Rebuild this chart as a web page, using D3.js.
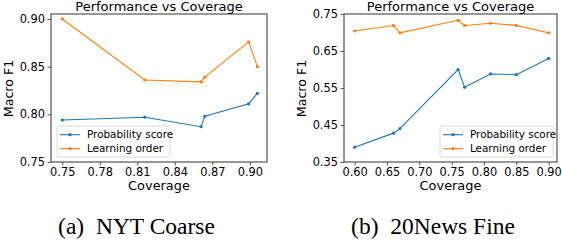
<!DOCTYPE html>
<html>
<head>
<meta charset="utf-8">
<script src="https://cdn.jsdelivr.net/npm/d3@7"></script>
<style>
  body { margin: 0; background: #fff; }
  svg text { font-family: "DejaVu Sans", sans-serif; fill: #000; }
  svg text.caption { font-family: "Liberation Serif", "Times New Roman", serif; }
</style>
</head>
<body>
<script>
// series names and captions
var seriesNames = ["Probability score", "Learning order"];
var seriesColors = ["#1f77b4", "#ff7f0e"];
var captions = ["(a)\u2002NYT Coarse", "(b)\u200220News Fine"];

// NYT Coarse
var nytCoverage = [0.750, 0.816, 0.861, 0.864, 0.899, 0.906];
var nytProb = [0.794, 0.797, 0.787, 0.798, 0.811, 0.822];
var nytLearn = [0.900, 0.836, 0.834, 0.839, 0.876, 0.850];
var nytXTicks = [0.75, 0.78, 0.81, 0.84, 0.87, 0.90];
var nytYTicks = [0.75, 0.80, 0.85, 0.90];

// 20News Fine
var newsCoverage = [0.60, 0.66, 0.67, 0.76, 0.77, 0.81, 0.85, 0.90];
var newsProb = [0.390, 0.428, 0.440, 0.600, 0.552, 0.588, 0.586, 0.630];
var newsLearn = [0.704, 0.719, 0.699, 0.733, 0.719, 0.725, 0.719, 0.699];
var newsXTicks = [0.60, 0.65, 0.70, 0.75, 0.80, 0.85, 0.90];
var newsYTicks = [0.35, 0.45, 0.55, 0.65, 0.75];

var svg = d3.select("body").append("svg")
    .attr("width", 562)
    .attr("height", 246);

function drawPanel(opt) {
  var x = d3.scaleLinear().domain(opt.xDomain).range([opt.left, opt.right]);
  var y = d3.scaleLinear().domain(opt.yDomain).range([opt.bottom, opt.top]);
  var g = svg.append("g");

  var xAxis = g.append("g")
      .attr("transform", "translate(0," + opt.bottom + ")")
      .call(d3.axisBottom(x).tickValues(opt.xTicks).tickFormat(d3.format(".2f")).tickSize(3.5).tickPadding(2.5));
  var yAxis = g.append("g")
      .attr("transform", "translate(" + opt.left + ",0)")
      .call(d3.axisLeft(y).tickValues(opt.yTicks).tickFormat(d3.format(".2f")).tickSize(3.5).tickPadding(2.5));
  [xAxis, yAxis].forEach(function(a) {
    a.select(".domain").remove();
    a.selectAll(".tick line").attr("stroke", "#333").attr("stroke-width", 0.8);
    a.selectAll(".tick text").style("font-size", "11.4px").style("font-family", "DejaVu Sans");
  });

  // lines
  opt.series.forEach(function(vals, i) {
    var pts = opt.xs.map(function(d, j) { return [d, vals[j]]; });
    g.append("path")
        .attr("d", d3.line().x(function(d) { return x(d[0]); }).y(function(d) { return y(d[1]); })(pts))
        .attr("fill", "none")
        .attr("stroke", seriesColors[i])
        .attr("stroke-width", 1.1);
    g.selectAll(null).data(pts).enter().append("circle")
        .attr("cx", function(d) { return x(d[0]); })
        .attr("cy", function(d) { return y(d[1]); })
        .attr("r", 1.6)
        .attr("fill", seriesColors[i]);
  });

  // frame
  g.append("rect")
      .attr("x", opt.left).attr("y", opt.top)
      .attr("width", opt.right - opt.left).attr("height", opt.bottom - opt.top)
      .attr("fill", "none").attr("stroke", "#333").attr("stroke-width", 1);

  g.append("text")
      .attr("x", (opt.left + opt.right) / 2).attr("y", 11)
      .attr("text-anchor", "middle").style("font-size", "13px")
      .text("Performance vs Coverage");
  g.append("text")
      .attr("x", (opt.left + opt.right) / 2).attr("y", 190)
      .attr("text-anchor", "middle").style("font-size", "12.9px")
      .text("Coverage");
  g.append("text")
      .attr("transform", "translate(" + (opt.left - 38) + "," + ((opt.top + opt.bottom) / 2 + 0.5) + ") rotate(-90)")
      .attr("text-anchor", "middle").style("font-size", "12.6px")
      .text("Macro F1");

  // legend
  var lg = g.append("g").attr("transform", "translate(" + opt.legendX + ",126)");
  lg.append("rect")
      .attr("width", 113).attr("height", 31).attr("rx", 2)
      .attr("fill", "#fff").attr("fill-opacity", 0.8)
      .attr("stroke", "#d0d0d0").attr("stroke-width", 0.8);
  seriesNames.forEach(function(name, i) {
    var yy = 8.7 + i * 14;
    lg.append("line")
        .attr("x1", 3).attr("x2", 23).attr("y1", yy).attr("y2", yy)
        .attr("stroke", seriesColors[i]).attr("stroke-width", 1.1);
    lg.append("circle").attr("cx", 13).attr("cy", yy).attr("r", 1.6).attr("fill", seriesColors[i]);
    lg.append("text")
        .attr("x", 30).attr("y", yy + 3.7)
        .style("font-size", "10.4px")
        .text(name);
  });

  svg.append("text")
      .attr("class", "caption")
      .attr("x", opt.captionX).attr("y", 234)
      .attr("text-anchor", "middle").style("font-size", "23.5px")
      .text(opt.caption);
}

drawPanel({
  left: 51, right: 267, top: 14, bottom: 162,
  xDomain: [0.7410, 0.9137], yDomain: [0.75, 0.9052],
  xTicks: nytXTicks, yTicks: nytYTicks,
  xs: nytCoverage, series: [nytProb, nytLearn],
  legendX: 57, captionX: 136.5, caption: captions[0]
});

drawPanel({
  left: 344, right: 557, top: 14, bottom: 162,
  xDomain: [0.5835, 0.9129], yDomain: [0.35, 0.75],
  xTicks: newsXTicks, yTicks: newsYTicks,
  xs: newsCoverage, series: [newsProb, newsLearn],
  legendX: 440, captionX: 433, caption: captions[1]
});
</script>
</body>
</html>
